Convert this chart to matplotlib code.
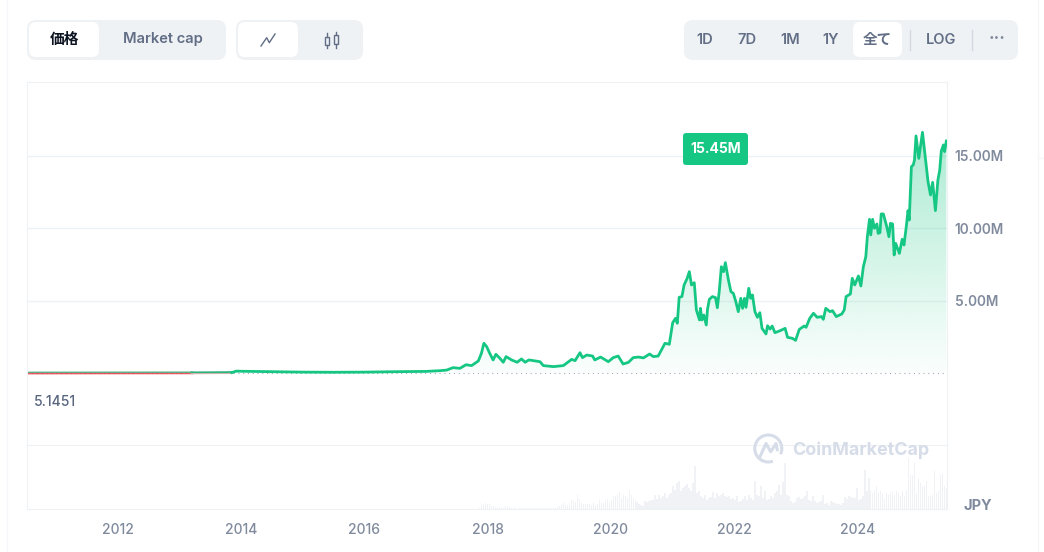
import numpy as np
import matplotlib
matplotlib.use('Agg')
import matplotlib.pyplot as plt
from matplotlib.patches import FancyBboxPatch, Rectangle, Arc

plt.rcParams['font.family'] = ['Inter', 'Noto Sans CJK JP', 'DejaVu Sans']

GREEN = '#16c784'
RED = '#ea3943'
GRID = '#eff2f5'
GREY = '#808a9d'
SLATE = '#616e85'

## price, million JPY
price_years = [2010.52, 2013.2, 2013.85, 2013.92, 2014.0, 2014.5, 2015.0, 2015.5, 2016.0, 2016.5, 2017.0,
    2017.23, 2017.335, 2017.44, 2017.55, 2017.65, 2017.74, 2017.85, 2017.90, 2017.94, 2017.985,
    2018.04, 2018.09, 2018.135, 2018.2, 2018.255, 2018.30, 2018.39, 2018.48, 2018.55, 2018.61,
    2018.67, 2018.85, 2018.905, 2019.07, 2019.23, 2019.28, 2019.365, 2019.42, 2019.50, 2019.54,
    2019.61, 2019.705, 2019.74, 2019.835, 2019.96, 2020.04, 2020.12, 2020.20, 2020.285, 2020.365,
    2020.45, 2020.53, 2020.63, 2020.69, 2020.77, 2020.88, 2020.95, 2021.005, 2021.05, 2021.08,
    2021.11, 2021.155, 2021.19, 2021.24, 2021.275, 2021.31, 2021.355, 2021.39, 2021.44, 2021.455,
    2021.48, 2021.51, 2021.55, 2021.57, 2021.60, 2021.65, 2021.70, 2021.73, 2021.76, 2021.795,
    2021.83, 2021.86, 2021.91, 2021.95, 2021.99, 2022.03, 2022.07, 2022.11, 2022.14, 2022.17,
    2022.195, 2022.24, 2022.27, 2022.30, 2022.34, 2022.38, 2022.42, 2022.455, 2022.52, 2022.545,
    2022.585, 2022.62, 2022.665, 2022.75, 2022.83, 2022.87, 2022.95, 2023.0, 2023.06, 2023.14,
    2023.17, 2023.23, 2023.29, 2023.35, 2023.42, 2023.45, 2023.49, 2023.56, 2023.60, 2023.66,
    2023.75, 2023.79, 2023.82, 2023.89, 2023.92, 2023.96, 2024.02, 2024.06, 2024.10, 2024.14,
    2024.165, 2024.20, 2024.22, 2024.25, 2024.28, 2024.32, 2024.34, 2024.37, 2024.39, 2024.425,
    2024.48, 2024.515, 2024.54, 2024.575, 2024.60, 2024.625, 2024.685, 2024.73, 2024.76, 2024.80,
    2024.825, 2024.845, 2024.88, 2024.91, 2024.93, 2024.955, 2025.0, 2025.06, 2025.11, 2025.15,
    2025.19, 2025.225, 2025.27, 2025.31, 2025.34, 2025.365, 2025.40, 2025.42, 2025.447]
price_values = [0.0, 0.01, 0.03, 0.13, 0.12, 0.09, 0.06, 0.05, 0.06, 0.09, 0.11,
    0.16, 0.2, 0.37, 0.32, 0.57, 0.51, 0.83, 1.36, 2.05, 1.82,
    1.31, 0.9, 1.29, 1.01, 0.74, 1.13, 0.9, 0.74, 0.97, 0.74,
    0.9, 0.78, 0.51, 0.44, 0.51, 0.67, 0.94, 0.85, 1.40, 1.06,
    1.24, 1.17, 0.9, 1.1, 0.78, 1.06, 1.17, 0.62, 0.73, 1.06,
    1.10, 1.04, 1.31, 1.13, 1.17, 2.05, 1.98, 3.47, 3.77, 3.43,
    5.22, 5.27, 6.07, 6.53, 6.99, 6.07, 6.23, 4.34, 3.66, 4.46,
    3.66, 4.0, 3.31, 4.39, 5.08, 5.27, 5.2, 4.5, 5.61, 7.33,
    6.99, 7.61, 6.41, 5.61, 5.49, 4.92, 4.23, 5.15, 4.46, 5.15,
    4.53, 5.84, 5.15, 5.38, 4.23, 3.84, 4.16, 3.08, 2.69, 3.26,
    3.03, 3.24, 2.78, 2.92, 3.08, 2.46, 2.39, 2.25, 3.01, 3.24,
    3.15, 3.77, 4.12, 3.84, 3.89, 3.70, 4.46, 4.23, 4.30, 3.89,
    4.07, 4.35, 5.27, 5.45, 6.53, 6.07, 6.69, 6.0, 7.33, 8.02,
    9.40, 10.6, 9.52, 10.6, 9.98, 10.28, 9.63, 9.68, 10.97, 10.97,
    10.09, 9.40, 10.32, 10.28, 8.14, 8.94, 8.25, 9.22, 8.83, 10.2,
    11.2, 10.55, 14.23, 14.35, 14.69, 16.35, 14.8, 16.6, 14.69, 13.2,
    12.28, 13.15, 11.2, 13.3, 14.0, 15.3, 15.73, 15.27, 16.0]

## volume, relative height, one bar roughly every 2 pixels from late 2017 on
volume_values = [0.5, 0.5, 0.5, 0.5, 0.5, 1.5, 4, 5, 6, 5, 5, 3, 3, 2, 2, 1, 1, 1, 3, 2, 2, 1, 1, 1, 0.5,
    1, 1.5, 1, 0.8, 0.8, 1, 0.8, 0.8, 0.8, 0.8, 1, 1.5, 1.5, 1, 0.8, 1, 1, 1.5, 1.5, 2, 3, 4, 6, 4, 4,
    4, 9, 8, 7, 14, 10, 6, 5, 5, 5, 5, 4, 6, 4, 5, 9, 6, 6, 8, 10, 6, 9, 13, 13, 15, 17, 11, 14, 13, 11,
    19, 14, 11, 9, 7,
    5, 4, 3, 8, 7, 8, 9, 9, 14, 10, 14, 11, 13, 16, 11, 14, 16, 23, 19, 26, 28, 18, 21, 23, 25, 21, 18,
    26, 43, 16, 18, 13, 11, 14, 9, 11, 12, 17, 11, 16, 13, 14, 16, 13, 12, 13, 10, 11, 9, 13, 7, 8, 10,
    13, 9, 14, 11, 9, 28, 14, 13, 23, 11, 18, 9, 10, 13, 11, 16, 18, 24, 14, 27, 46, 14, 13, 8, 6, 7, 11,
    12, 10, 11, 13, 18, 9, 8, 13, 8, 6, 7, 8, 14, 5, 6, 4, 8, 7, 6, 5, 5, 4, 6, 12, 10, 13, 12, 11, 11,
    21, 9, 10, 13, 39, 18, 31, 19, 16, 19, 23, 16, 18, 16, 10, 16, 14, 16, 18, 14, 18, 16, 13, 18, 13,
    19, 51, 34, 34, 46, 16, 31, 26, 23, 23, 28, 13, 13, 14, 38, 16, 18, 34, 36, 23, 21]

x_ticks = [2012, 2014, 2016, 2018, 2020, 2022, 2024]
y_ticks = [5, 10, 15]
y_labels = ['5.00M', '10.00M', '15.00M']

tab_labels = ['1D', '7D', '1M', '1Y', '全て', 'LOG']
tab_centers = [705, 747, 790, 831, 877, 941]

fig = plt.figure(figsize=(10.44, 5.52), dpi=100, facecolor='white')
W, H = 1044.0, 552.0

def pixel_axes(left, top, right, bottom):
    return fig.add_axes([left / W, 1 - bottom / H, (right - left) / W, (bottom - top) / H])

xlim = (2010.523, 2025.458)

## price panel
ax = pixel_axes(27, 82, 947, 445)
ax.set_xlim(xlim)
ax.set_ylim(-4.966, 20.07)
ax.set_facecolor('none')
ax.grid(axis='y', color=GRID, linewidth=1)
ax.set_axisbelow(True)
ax.axhline(0, color='#9aa5ba', linewidth=0.75, linestyle=(0, (1, 3.6)), zorder=1.5)

years = np.array(price_years)
values = np.array(price_values)

# gradient under the line
fill = ax.fill_between(years, 0, values, color='none')
alpha = np.linspace(0.36, 0.02, 256)
rgba = np.zeros((256, 1, 4))
rgba[..., :3] = matplotlib.colors.to_rgb(GREEN)
rgba[..., 3] = alpha[:, None]
im = ax.imshow(rgba, extent=(xlim[0], xlim[1], 0, 16.6), aspect='auto', zorder=1, origin='upper')
im.set_clip_path(fill.get_paths()[0], transform=ax.transData)
ax.set_xlim(xlim)
ax.set_ylim(-4.966, 20.07)

# below the baseline the flat early stretch shows red, green above
low, = ax.plot(years[:2], values[:2], color=RED, alpha=0.85, linewidth=2, zorder=2)
low.set_clip_path(Rectangle((xlim[0], -1), 20, 1, transform=ax.transData))
fade, = ax.plot(years[1:3], values[1:3], color='#cdb3ac', linewidth=2, zorder=2)
fade.set_clip_path(Rectangle((xlim[0], -1), 20, 1, transform=ax.transData))
flat, = ax.plot(years[:2], values[:2], color='#5fb088', linewidth=2, zorder=2)
flat.set_clip_path(Rectangle((xlim[0], 0), 20, 5, transform=ax.transData))
ramp, = ax.plot(years[1:3], values[1:3], color='#2fb37e', linewidth=2, zorder=2)
ramp.set_clip_path(Rectangle((xlim[0], 0), 20, 5, transform=ax.transData))
ax.plot(years[2:], values[2:], color=GREEN, linewidth=2, zorder=3, solid_joinstyle='round')

ax.set_yticks(y_ticks)
ax.set_yticklabels(y_labels, fontsize=9.8, fontweight='semibold', color=GREY)
ax.yaxis.tick_right()
ax.tick_params(axis='y', length=0, pad=5.5)
ax.set_xticks([])
ax.spines['bottom'].set_visible(False)
for side in ['left', 'right', 'top']:
    ax.spines[side].set_color(GRID)

## volume panel
vol = pixel_axes(27, 445, 947, 509)
vol.set_xlim(xlim)
vol.set_ylim(0, 64)
vol_x = np.linspace(2017.71, 2025.45, len(volume_values))
vol.bar(vol_x, volume_values, width=(vol_x[1] - vol_x[0]) * 0.8, color='#f0f2f6', linewidth=0)
vol.set_yticks([])
vol.set_xticks(x_ticks)
vol.set_xticklabels([str(y) for y in x_ticks], fontsize=10, fontweight='medium', color=GREY)
vol.tick_params(axis='x', length=0, pad=10)
for spine in vol.spines.values():
    spine.set_color(GRID)

## everything else is page furniture, in pixel coordinates
ui = fig.add_axes([0, 0, 1, 1])
ui.set_xlim(0, W)
ui.set_ylim(H, 0)
ui.axis('off')
ui.patch.set_visible(False)

def box(x0, y0, x1, y1, r, color):
    ui.add_patch(FancyBboxPatch((x0 + r, y0 + r), x1 - x0 - 2 * r, y1 - y0 - 2 * r,
                                boxstyle='round,pad=%f' % r, facecolor=color, edgecolor='none'))

ui.plot([6.5, 6.5], [0, H], color='#f5f6f9', lw=1)
ui.plot([1038, 1038], [0, H], color='#f5f6f9', lw=1)
ui.plot([1038, W], [158, 158], color='#f6f7f9', lw=1)

box(27, 20, 226, 60, 9, GRID)
box(29, 22, 99, 57, 7, 'white')
ui.text(64.5, 39.5, '価格', ha='center', va='center', fontsize=10.6, fontweight='bold', color='#0d1421')
ui.text(163, 39.5, 'Market cap', ha='center', va='center', fontsize=10.6, fontweight='semibold', color=SLATE)

box(236, 20, 363, 60, 9, GRID)
box(238, 22, 298, 57, 7, 'white')
ui.plot([261, 266.7, 269.3, 275], [46, 37.7, 42.7, 34], color=SLATE, lw=1)
for x0, top, bot, w0, w1 in [(324.5, 37, 45, 33, 48), (333.5, 35, 44, 32, 48)]:
    ui.add_patch(Rectangle((x0, top), 4.5, bot - top, facecolor='none', edgecolor=SLATE, lw=1))
    ui.plot([x0 + 2.25] * 2, [w0, top], color=SLATE, lw=1)
    ui.plot([x0 + 2.25] * 2, [bot, w1], color=SLATE, lw=1)

box(684, 20, 1018, 60, 9, GRID)
box(853, 22, 902, 57, 7, 'white')
for label, cx in zip(tab_labels, tab_centers):
    ui.text(cx, 39.5, label, ha='center', va='center', fontsize=10.5, fontweight='semibold', color=SLATE)
ui.text(997, 39.5, '···', ha='center', va='center', fontsize=12.5, fontweight='bold', color=GREY)
for x in [909.5, 971.5]:
    ui.plot([x, x], [30, 50], color='#d3d8e1', lw=1)

box(683, 133, 748, 165, 3, GREEN)
ui.text(715.5, 149, '15.45M', ha='center', va='center', fontsize=10, fontweight='bold', color='white')
ui.text(34, 402, '5.1451', ha='left', va='center', fontsize=10, fontweight='medium', color='#58667e')
ui.text(978, 505.5, 'JPY', ha='center', va='center', fontsize=10.5, fontweight='bold', color=GREY)

# CoinMarketCap watermark
MARK = '#d6dce8'
ui.add_patch(Arc((768.3, 448.5), 27, 27, theta1=70, theta2=25, color=MARK, lw=2.2))
ui.plot([760, 766, 770.7, 776, 777.3], [456.7, 443.5, 451.7, 443.5, 450], color=MARK, lw=2.2,
        solid_joinstyle='round', solid_capstyle='round')
ui.text(792, 450, 'CoinMarketCap', ha='left', va='center', fontsize=12.9, fontweight='bold', color=MARK)

plt.savefig('out.png', dpi=100)
